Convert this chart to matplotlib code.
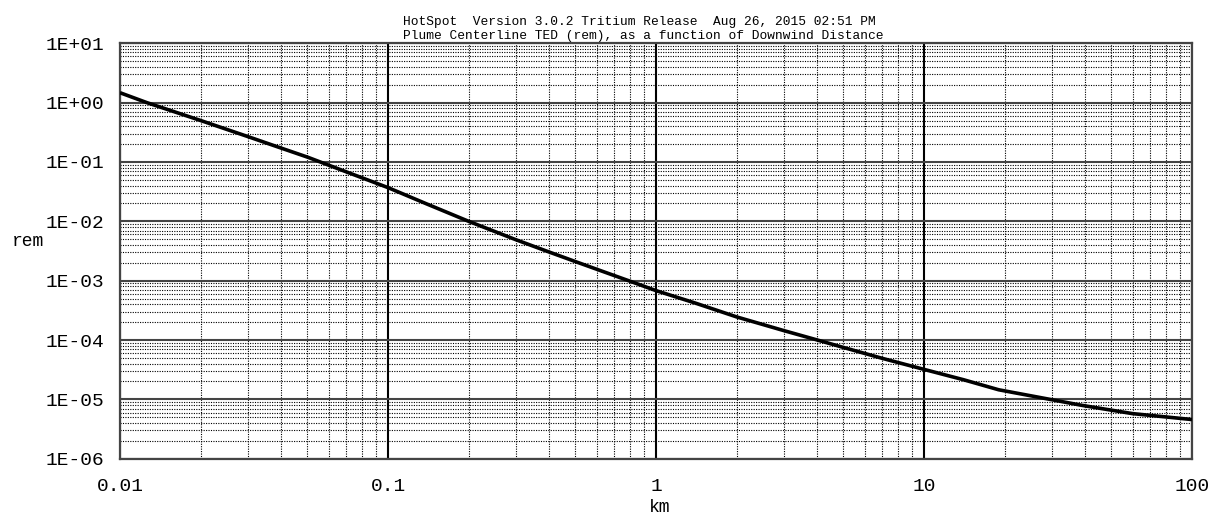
"""HotSpot plume centerline TED vs downwind distance, log-log"""
import numpy as np
from matplotlib import pyplot as plt
from matplotlib.ticker import FixedLocator, FuncFormatter, LogLocator, NullFormatter

# values
distance_km = [0.01, 0.0126, 0.02, 0.03, 0.04, 0.05, 0.07, 0.1, 0.14, 0.2, 0.3, 0.4, 0.5,
               0.62, 0.79, 1.0, 1.4, 2.0, 3.0, 4.0, 5.0, 7.0, 10.0, 14.0, 19.0, 29.5, 39.0,
               60.0, 100.0]
ted_rem = [1.47, 1.0, 0.50, 0.268, 0.171, 0.121, 0.068, 0.037, 0.0195, 0.01, 0.0049, 0.00303,
           0.0021, 0.00148, 0.001, 0.00068, 0.00042, 0.000245, 0.000144, 0.0001, 7.5e-5,
           4.9e-5, 3.2e-5, 2.15e-5, 1.45e-5, 1.0e-5, 7.9e-6, 5.75e-6, 4.57e-6]

x_ticks = [0.01, 0.1, 1, 10, 100]
x_labels = ['0.01', '0.1', '1', '10', '100']
y_ticks = [1e-6, 1e-5, 1e-4, 1e-3, 1e-2, 1e-1, 1e0, 1e1]

title_1 = 'HotSpot  Version 3.0.2 Tritium Release  Aug 26, 2015 02:51 PM'
title_2 = 'Plume Centerline TED (rem), as a function of Downwind Distance'

plt.rcParams['font.family'] = ['Liberation Mono', 'DejaVu Sans Mono']

fig = plt.figure(figsize=(12.31, 5.19), dpi=100)
W, H = 1231, 519
ax = fig.add_axes([120 / W, 1 - 458.7 / H, (1192 - 120) / W, (458.7 - 43.3) / H])

ax.set_xscale('log')
ax.set_yscale('log')
ax.set_xlim(0.01, 100)
ax.set_ylim(1e-6, 10)

ax.xaxis.set_major_locator(FixedLocator(x_ticks))
ax.xaxis.set_major_formatter(FuncFormatter(lambda v, p: x_labels[x_ticks.index(v)] if v in x_ticks else ''))
ax.yaxis.set_major_locator(FixedLocator(y_ticks))
ax.yaxis.set_major_formatter(FuncFormatter(lambda v, p: f'1E{int(round(np.log10(v))):+03d}'))
for axis in (ax.xaxis, ax.yaxis):
    axis.set_minor_locator(LogLocator(base=10, subs=np.arange(2, 10), numticks=20))
    axis.set_minor_formatter(NullFormatter())

ax.tick_params(which='both', length=0, labelsize=14)
ax.tick_params(axis='x', pad=14)
ax.tick_params(axis='y', pad=11)

# dotted minor grid, solid decade lines
ax.grid(which='minor', color='black', linestyle=(0, (1, 1.2)), linewidth=0.8)
ax.grid(which='major', axis='y', color='#444444', linestyle='-', linewidth=1.5)
ax.grid(which='major', axis='x', color='black', linestyle='-', linewidth=1.5)
ax.set_axisbelow(True)
for sp in ax.spines.values():
    sp.set_color('#444444')
    sp.set_linewidth(1.6)

ax.plot(distance_km, ted_rem, color='black', linewidth=2.6, solid_capstyle='butt', zorder=3)

fig.text(403 / W, 1 - 25.5 / H, title_1, fontsize=9.3, va='baseline', ha='left')
fig.text(403 / W, 1 - 39.5 / H, title_2, fontsize=9.3, va='baseline', ha='left')
fig.text(12 / W, 1 - 242 / H, 'rem', fontsize=13, va='center', ha='left')
fig.text(660 / W, 1 - 507 / H, 'km', fontsize=13, va='center', ha='center')

fig.savefig('out.png', dpi=100)
